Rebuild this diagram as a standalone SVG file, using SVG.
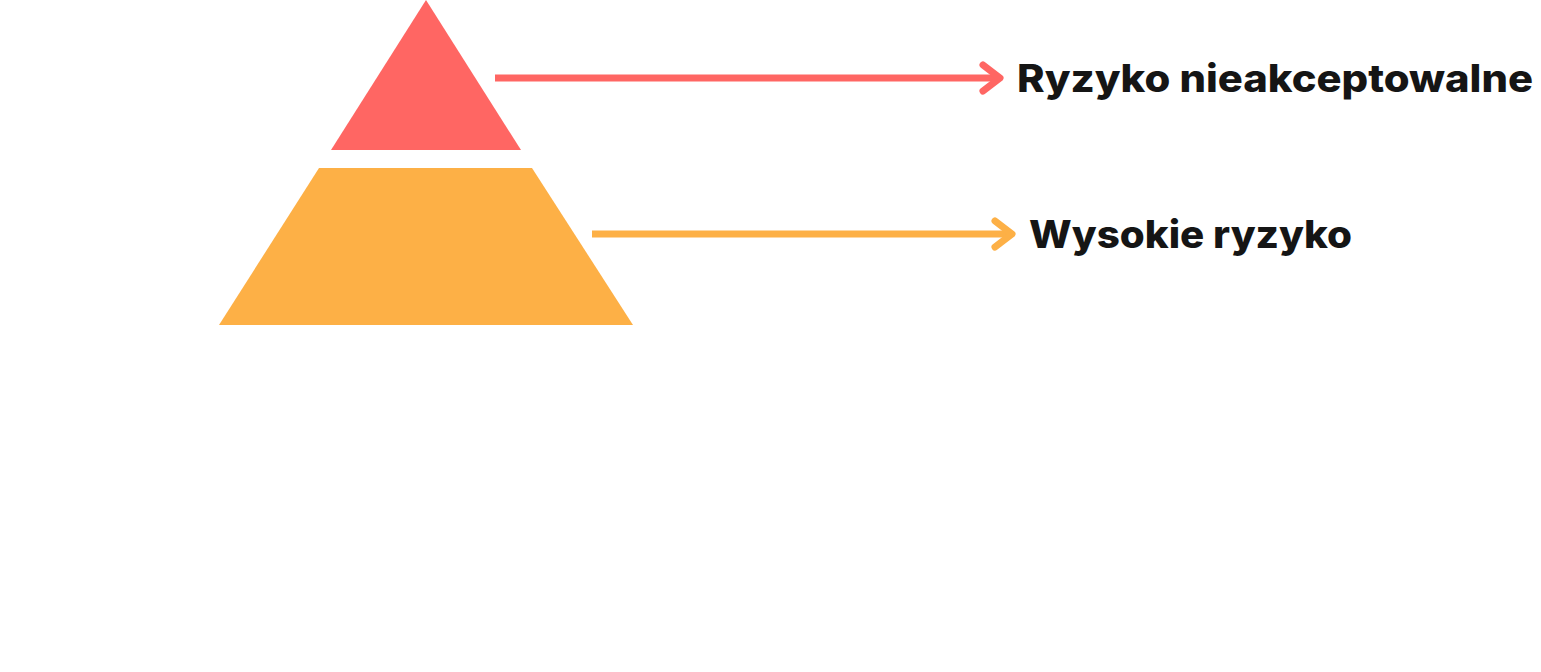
<svg xmlns="http://www.w3.org/2000/svg" width="1541" height="672" viewBox="0 0 1541 672">
<style>
.lbl{font-family:Inter,"Noto Sans",sans-serif;font-weight:800;font-size:38px;fill:#151515}
.red{stroke:#ff6663;fill:none}
.org{stroke:#fdb046;fill:none}
</style>
<rect width="1541" height="672" fill="#fff"/>
<g id="top-level"><polygon points="426,0 521,150 331,150" fill="#ff6663"/></g>
<g id="high-level"><polygon points="319,168 532,168 633,325 219,325" fill="#fdb046"/></g>
<g id="connectors" stroke-width="7" stroke-linecap="round" stroke-linejoin="round">
<line class="red" x1="495" y1="78" x2="998" y2="78" stroke-linecap="butt"/>
<polyline class="red" points="983,65 1000,78 983,91"/>
<line class="org" x1="592" y1="234" x2="1010" y2="234" stroke-linecap="butt"/>
<polyline class="org" points="995,221 1012,234 995,247"/>
</g>
<g id="label-unacceptable"><text class="lbl" x="1017" y="92" textLength="516" lengthAdjust="spacingAndGlyphs">Ryzyko nieakceptowalne</text></g>
<g id="label-high"><text class="lbl" x="1029" y="248" textLength="323" lengthAdjust="spacingAndGlyphs">Wysokie ryzyko</text></g>
</svg>
